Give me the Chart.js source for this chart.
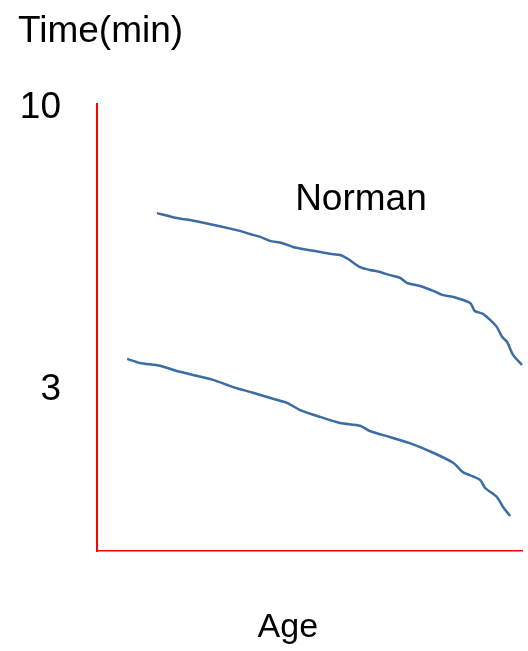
<!DOCTYPE html>
<html>
<head>
<meta charset="utf-8">
<script src="https://cdn.jsdelivr.net/npm/chart.js@4"></script>
<style>
  html, body { margin: 0; padding: 0; background: #fff; }
  #wrap { width: 528px; height: 651px; position: relative; }
</style>
</head>
<body>
<div id="wrap"><canvas id="graphAge"></canvas></div>
<script>
// upper curve (Norman)
const normanAge  = [14.1, 17.9, 24.2, 33.6, 36.0, 38.4, 40.7, 43.5, 46.1, 50.1, 54.8, 57.2, 59.1, 61.9, 64.2, 66.6, 68.9, 71.3, 72.9, 76.0, 79.1, 81.2, 83.8, 87.8, 88.9, 90.8, 92.5, 94.1, 95.3, 96.5, 97.9, 100];
const normanTime = [7.39, 7.29, 7.17, 6.95, 6.87, 6.80, 6.70, 6.65, 6.55, 6.47, 6.38, 6.35, 6.25, 6.05, 5.98, 5.93, 5.85, 5.78, 5.66, 5.58, 5.46, 5.36, 5.31, 5.16, 4.96, 4.89, 4.74, 4.56, 4.32, 4.19, 3.87, 3.62];
// lower curve
const otherAge  = [7.1, 10.1, 14.8, 19.5, 27.3, 32.0, 36.7, 41.4, 44.7, 47.8, 52.5, 57.2, 61.9, 64.2, 68.9, 73.6, 79.1, 83.8, 86.1, 90.1, 91.3, 94.1, 95.5, 97.2];
const otherTime = [3.77, 3.67, 3.60, 3.45, 3.25, 3.07, 2.93, 2.78, 2.68, 2.50, 2.33, 2.18, 2.11, 1.98, 1.83, 1.68, 1.44, 1.19, 0.96, 0.77, 0.57, 0.34, 0.10, -0.13];
const yTicks = [3, 10];
const lineName = 'Norman';

const fontFam = '"Liberation Sans", Arial, sans-serif';
const lineColor = '#3b6ca3';

function toPoints(xs, ys) {
  return xs.map((v, i) => ({ x: v, y: ys[i] }));
}

// teks "Norman" dan "Age"
const textLabels = {
  id: 'textLabels',
  afterDraw(chart) {
    const { ctx, scales: { x, y } } = chart;
    ctx.save();
    ctx.fillStyle = '#000';
    ctx.textAlign = 'center';
    ctx.textBaseline = 'middle';
    ctx.font = '37px ' + fontFam;
    ctx.fillText(lineName, x.getPixelForValue(62.1), y.getPixelForValue(7.72));
    ctx.font = '34px ' + fontFam;
    ctx.fillText('Age', x.getPixelForValue(44.9), x.bottom - 23);
    ctx.restore();
  }
};

const chart = new Chart(document.getElementById('graphAge'), {
  type: 'line',
  data: {
    datasets: [{
      label: lineName,
      data: toPoints(normanAge, normanTime),
      borderColor: lineColor,
      borderWidth: 2.5,
      pointRadius: 0,
      tension: 0.25,
      clip: false
    }, {
      label: 'other',
      data: toPoints(otherAge, otherTime),
      borderColor: lineColor,
      borderWidth: 2.5,
      pointRadius: 0,
      tension: 0.25,
      clip: false
    }]
  },
  options: {
    responsive: true,
    maintainAspectRatio: false,
    animation: false,
    devicePixelRatio: 1,
    layout: { padding: { left: 18, right: 6, top: 0, bottom: 0 } },
    scales: {
      x: {
        type: 'linear',
        min: 0,
        max: 100,
        grid: { display: false, drawTicks: false },
        border: { display: true, color: '#ff0000', width: 1.5 },
        ticks: { display: false },
        afterFit(s) { s.height = 100; }
      },
      y: {
        type: 'linear',
        min: -1,
        max: 10.1,
        grid: { display: false, drawTicks: false },
        border: { display: true, color: '#ff0000', width: 2 },
        afterBuildTicks(s) { s.ticks = yTicks.map(v => ({ value: v })); },
        ticks: {
          color: '#000',
          padding: 36,
          font: { size: 37, family: fontFam }
        },
        afterFit(s) { s.width = 79; }
      }
    },
    plugins: {
      legend: { display: false },
      tooltip: { enabled: false },
      title: {
        display: true,
        text: 'Time(min)',
        align: 'start',
        color: '#000',
        font: { size: 37, family: fontFam, weight: 'normal' },
        padding: { top: 10, bottom: 49.6 }
      }
    }
  },
  plugins: [textLabels]
});
</script>
</body>
</html>
